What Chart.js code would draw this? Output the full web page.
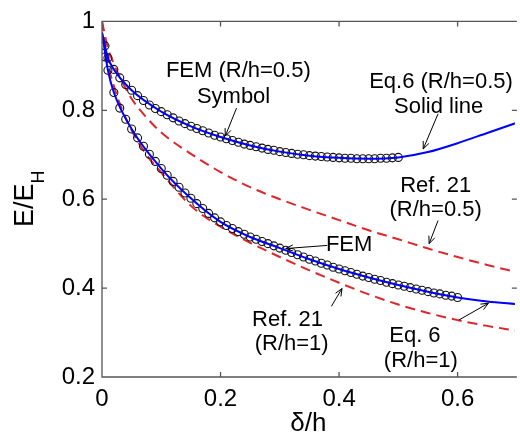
<!DOCTYPE html>
<html>
<head>
<meta charset="utf-8">
<script src="https://cdn.jsdelivr.net/npm/chart.js@4.4.0/dist/chart.umd.min.js"></script>
<style>
  html, body { margin: 0; padding: 0; background: #fff; }
</style>
</head>
<body>
<canvas id="chart" width="520" height="437"></canvas>
<script>
// FEM results (circles), R/h = 0.5
const femHalfX = [0.005, 0.01, 0.02, 0.03, 0.04, 0.05, 0.06, 0.07, 0.08, 0.09,
  0.10, 0.11, 0.12, 0.13, 0.14, 0.15, 0.16, 0.17, 0.18, 0.19,
  0.20, 0.21, 0.22, 0.23, 0.24, 0.25, 0.26, 0.27, 0.28, 0.29,
  0.30, 0.31, 0.32, 0.33, 0.34, 0.35, 0.36, 0.37, 0.38, 0.39,
  0.40, 0.41, 0.42, 0.43, 0.44, 0.45, 0.46, 0.47, 0.48, 0.49, 0.50];
const femHalfY = [0.945, 0.918, 0.892, 0.873, 0.858, 0.845, 0.833, 0.822, 0.812, 0.804,
  0.797, 0.790, 0.783, 0.776, 0.770, 0.764, 0.759, 0.754, 0.749, 0.744,
  0.740, 0.736, 0.732, 0.728, 0.724, 0.721, 0.718, 0.715, 0.712, 0.710,
  0.707, 0.705, 0.703, 0.701, 0.700, 0.698, 0.697, 0.696, 0.695, 0.694,
  0.693, 0.692, 0.692, 0.691, 0.691, 0.691, 0.691, 0.692, 0.692, 0.693, 0.694];

// FEM results (circles), R/h = 1
const femOneX = [0.005, 0.01, 0.02, 0.03, 0.04, 0.05, 0.06, 0.07, 0.08, 0.09,
  0.10, 0.11, 0.12, 0.13, 0.14, 0.15, 0.16, 0.17, 0.18, 0.19,
  0.20, 0.21, 0.22, 0.23, 0.24, 0.25, 0.26, 0.27, 0.28, 0.29,
  0.30, 0.31, 0.32, 0.33, 0.34, 0.35, 0.36, 0.37, 0.38, 0.39,
  0.40, 0.41, 0.42, 0.43, 0.44, 0.45, 0.46, 0.47, 0.48, 0.49,
  0.50, 0.51, 0.52, 0.53, 0.54, 0.55, 0.56, 0.57, 0.58, 0.59, 0.60];
const femOneY = [0.920, 0.890, 0.840, 0.805, 0.780, 0.758, 0.738, 0.719, 0.701, 0.685,
  0.669, 0.654, 0.640, 0.627, 0.614, 0.602, 0.590, 0.579, 0.568, 0.558,
  0.549, 0.541, 0.534, 0.527, 0.521, 0.515, 0.510, 0.505, 0.500, 0.495,
  0.490, 0.485, 0.480, 0.475, 0.470, 0.465, 0.461, 0.456, 0.452, 0.447,
  0.443, 0.439, 0.435, 0.431, 0.427, 0.424, 0.420, 0.417, 0.413, 0.410,
  0.407, 0.404, 0.401, 0.398, 0.395, 0.392, 0.389, 0.387, 0.384, 0.382, 0.379];

// Eq. 6 (solid blue lines)
const eqX = [0, 0.01, 0.02, 0.05, 0.1, 0.15, 0.2, 0.25, 0.3, 0.35, 0.4, 0.45, 0.5, 0.55, 0.6, 0.65, 0.7];
const eqHalfY = [0.975, 0.918, 0.892, 0.845, 0.797, 0.764, 0.740, 0.721, 0.707, 0.698, 0.693, 0.691, 0.694, 0.706, 0.726, 0.749, 0.772];
const eqOneY = [0.975, 0.890, 0.840, 0.758, 0.669, 0.602, 0.549, 0.515, 0.490, 0.465, 0.443, 0.424, 0.407, 0.392, 0.379, 0.370, 0.364];

// Ref. 21 (red dashed lines)
const refX = [0, 0.01, 0.02, 0.03, 0.05, 0.075, 0.1, 0.15, 0.2, 0.25, 0.3, 0.35, 0.4, 0.45, 0.5, 0.55, 0.6, 0.65, 0.7];
const refHalfY = [1, 0.940, 0.905, 0.875, 0.826, 0.784, 0.750, 0.702, 0.661, 0.627, 0.600, 0.576, 0.553, 0.530, 0.510, 0.489, 0.470, 0.452, 0.436];
const refOneY = [1, 0.905, 0.855, 0.815, 0.755, 0.700, 0.660, 0.585, 0.538, 0.502, 0.470, 0.440, 0.412, 0.386, 0.363, 0.344, 0.328, 0.315, 0.304];

// axes
const xTicks = [0, 0.2, 0.4, 0.6];
const xTickLabels = ['0', '0.2', '0.4', '0.6'];
const yTicks = [0.2, 0.4, 0.6, 0.8, 1];
const yTickLabels = ['0.2', '0.4', '0.6', '0.8', '1'];
const xMin = 0, xMax = 0.6967, xFrame = 0.7;
const yMin = 0.2, yMax = 1;

// annotations: text lines [text, x, y] and arrows [fromX, fromY, toX, toY], data units
const noteTexts = [
  ['FEM (R/h=0.5)', 0.230, 0.888], ['Symbol', 0.222, 0.830],
  ['Eq.6 (R/h=0.5)', 0.572, 0.863], ['Solid line', 0.568, 0.807],
  ['Ref. 21', 0.563, 0.630], ['(R/h=0.5)', 0.563, 0.576],
  ['FEM', 0.417, 0.496],
  ['Ref. 21', 0.313, 0.328], ['(R/h=1)', 0.320, 0.274],
  ['Eq. 6', 0.528, 0.292], ['(R/h=1)', 0.538, 0.236]
];
const noteArrows = [
  [0.227, 0.805, 0.208, 0.742],
  [0.567, 0.792, 0.542, 0.713],
  [0.567, 0.552, 0.552, 0.500],
  [0.380, 0.496, 0.310, 0.489],
  [0.387, 0.359, 0.405, 0.399],
  [0.602, 0.328, 0.652, 0.366]
];

const FONT = '"Liberation Sans", Arial, Helvetica, sans-serif';
const toPts = (xs, ys) => xs.map((x, i) => ({ x: x, y: ys[i] }));

const framePlugin = {
  id: 'frame',
  afterDraw(chart) {
    const { ctx, chartArea: a, scales: { x, y } } = chart;
    const right = x.getPixelForValue(xFrame);
    ctx.save();
    ctx.strokeStyle = '#555';
    ctx.lineWidth = 1.3;
    ctx.beginPath();
    ctx.moveTo(right, a.top); ctx.lineTo(a.left, a.top);
    ctx.lineTo(a.left, a.bottom); ctx.lineTo(right, a.bottom);
    xTicks.forEach(v => {
      const px = x.getPixelForValue(v);
      ctx.moveTo(px, a.bottom); ctx.lineTo(px, a.bottom - 5);
      ctx.moveTo(px, a.top); ctx.lineTo(px, a.top + 5);
    });
    yTicks.forEach(v => {
      const py = y.getPixelForValue(v);
      ctx.moveTo(a.left, py); ctx.lineTo(a.left + 5, py);
      ctx.moveTo(right, py); ctx.lineTo(right - 5, py);
    });
    ctx.stroke();

    // annotation arrows
    ctx.strokeStyle = '#000';
    ctx.lineWidth = 1;
    noteArrows.forEach(([x0, y0, x1, y1]) => {
      const sx = x.getPixelForValue(x0), sy = y.getPixelForValue(y0);
      const ex = x.getPixelForValue(x1), ey = y.getPixelForValue(y1);
      const ang = Math.atan2(ey - sy, ex - sx);
      ctx.beginPath();
      ctx.moveTo(sx, sy); ctx.lineTo(ex, ey);
      ctx.moveTo(ex - 8 * Math.cos(ang - 0.4), ey - 8 * Math.sin(ang - 0.4));
      ctx.lineTo(ex, ey);
      ctx.lineTo(ex - 8 * Math.cos(ang + 0.4), ey - 8 * Math.sin(ang + 0.4));
      ctx.stroke();
    });

    // annotation texts
    ctx.fillStyle = '#000';
    ctx.font = '22px ' + FONT;
    ctx.textAlign = 'center';
    ctx.textBaseline = 'middle';
    noteTexts.forEach(([t, tx, ty]) => {
      ctx.fillText(t, x.getPixelForValue(tx), y.getPixelForValue(ty));
    });

    // y axis title E/E_H, rotated
    ctx.translate(33, 227);
    ctx.rotate(-Math.PI / 2);
    ctx.textAlign = 'left';
    ctx.textBaseline = 'alphabetic';
    ctx.font = '27px ' + FONT;
    ctx.fillText('E/E', 0, 0);
    const w = ctx.measureText('E/E').width;
    ctx.font = '18px ' + FONT;
    ctx.fillText('H', w, 11);
    ctx.restore();
  }
};

new Chart(document.getElementById('chart'), {
  type: 'scatter',
  data: {
    datasets: [
      {
        label: 'Eq.6 (R/h=0.5)', data: toPts(eqX, eqHalfY), showLine: true,
        borderColor: '#0000ff', borderWidth: 2, pointRadius: 0,
        cubicInterpolationMode: 'monotone', order: 0
      },
      {
        label: 'Eq.6 (R/h=1)', data: toPts(eqX, eqOneY), showLine: true,
        borderColor: '#0000ff', borderWidth: 2, pointRadius: 0,
        cubicInterpolationMode: 'monotone', order: 0
      },
      {
        label: 'FEM (R/h=0.5)', data: toPts(femHalfX, femHalfY),
        pointStyle: 'circle', pointRadius: 4, borderWidth: 1.1,
        borderColor: '#111', backgroundColor: 'rgba(255,255,255,0)', order: 1
      },
      {
        label: 'FEM (R/h=1)', data: toPts(femOneX, femOneY),
        pointStyle: 'circle', pointRadius: 4, borderWidth: 1.1,
        borderColor: '#111', backgroundColor: 'rgba(255,255,255,0)', order: 1
      },
      {
        label: 'Ref. 21 (R/h=0.5)', data: toPts(refX, refHalfY), showLine: true,
        borderColor: '#e0262b', borderWidth: 2, borderDash: [10, 6], pointRadius: 0,
        cubicInterpolationMode: 'monotone', order: 2
      },
      {
        label: 'Ref. 21 (R/h=1)', data: toPts(refX, refOneY), showLine: true,
        borderColor: '#e0262b', borderWidth: 2, borderDash: [10, 6], pointRadius: 0,
        cubicInterpolationMode: 'monotone', order: 2
      }
    ]
  },
  options: {
    responsive: false,
    animation: false,
    layout: { padding: { top: 20, left: 0, right: 0, bottom: 0 } },
    plugins: { legend: { display: false }, tooltip: { enabled: false } },
    scales: {
      x: {
        type: 'linear', min: xMin, max: xMax,
        afterFit: s => { s.height = 60; },
        afterBuildTicks: s => { s.ticks = xTicks.map(v => ({ value: v })); },
        grid: { display: false, drawTicks: false },
        border: { display: false },
        ticks: {
          autoSkip: false, maxRotation: 0, padding: 8, color: '#000',
          font: { family: FONT, size: 24 },
          callback: (v, i) => xTickLabels[i]
        },
        title: {
          display: true, text: 'δ/h', color: '#000', padding: 0,
          font: { family: FONT, size: 26, lineHeight: 1 }
        }
      },
      y: {
        type: 'linear', min: yMin, max: yMax,
        afterFit: s => { s.width = 102; },
        afterBuildTicks: s => { s.ticks = yTicks.map(v => ({ value: v })); },
        grid: { display: false, drawTicks: false },
        border: { display: false },
        ticks: {
          autoSkip: false, padding: 7, color: '#000',
          font: { family: FONT, size: 24 },
          callback: (v, i) => yTickLabels[i]
        }
      }
    }
  },
  plugins: [framePlugin]
});
</script>
</body>
</html>
